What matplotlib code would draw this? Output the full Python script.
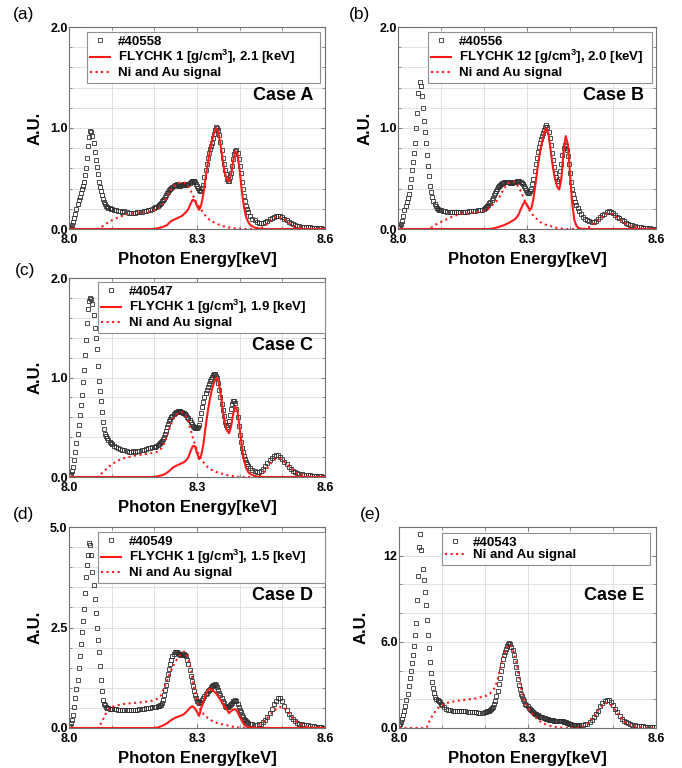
import numpy as np
import matplotlib
matplotlib.use("Agg")
import matplotlib.pyplot as plt
from matplotlib.ticker import MultipleLocator

plt.rcParams['font.family'] = ['Liberation Sans', 'DejaVu Sans']
plt.rcParams['mathtext.fontset'] = 'custom'
plt.rcParams['mathtext.rm'] = 'Liberation Sans'
plt.rcParams['mathtext.bf'] = 'Liberation Sans:bold'
plt.rcParams['mathtext.default'] = 'bf'

# photon energy grid [keV], 5 eV steps
energy = np.round(np.linspace(8.0, 8.6, 121), 4)
# extra measured points (half steps) on the steep parts of the spectra
energy_fine = np.round(np.concatenate([np.linspace(8.0025, 8.0975, 20),
                                       np.linspace(8.2025, 8.4175, 44)]), 4)

# --- Case A (#40558) ---
a_meas = [
    0.00, 0.02, 0.07, 0.15, 0.25, 0.32, 0.40, 0.47, 0.60, 0.82,
    0.97, 0.92, 0.76, 0.61, 0.47, 0.38, 0.30, 0.25, 0.22, 0.21,
    0.20, 0.19, 0.19, 0.18, 0.18, 0.17, 0.18, 0.17, 0.16, 0.16,
    0.16, 0.16, 0.17, 0.17, 0.17, 0.18, 0.18, 0.19, 0.19, 0.20,
    0.21, 0.22, 0.24, 0.26, 0.29, 0.32, 0.36, 0.39, 0.41, 0.43,
    0.44, 0.44, 0.43, 0.44, 0.45, 0.44, 0.45, 0.47, 0.48, 0.47,
    0.43, 0.39, 0.38, 0.44, 0.58, 0.70, 0.79, 0.85, 0.94, 1.01,
    0.98, 0.86, 0.70, 0.58, 0.50, 0.48, 0.55, 0.69, 0.77, 0.75,
    0.62, 0.47, 0.33, 0.23, 0.17, 0.13, 0.10, 0.09, 0.07, 0.06,
    0.06, 0.06, 0.07, 0.08, 0.10, 0.11, 0.12, 0.13, 0.13, 0.13,
    0.12, 0.10, 0.09, 0.07, 0.06, 0.05, 0.04, 0.03, 0.03, 0.02,
    0.02, 0.02, 0.02, 0.02, 0.01, 0.01, 0.01, 0.01, 0.01, 0.00,
    0.00]
a_meas_fine = [
    0.01, 0.04, 0.11, 0.20, 0.29, 0.36, 0.43, 0.53, 0.70, 0.91,
    0.96, 0.85, 0.68, 0.54, 0.42, 0.34, 0.27, 0.23, 0.21, 0.20,
    0.215, 0.23, 0.25, 0.275, 0.30, 0.34, 0.37, 0.40, 0.42, 0.44,
    0.45, 0.43, 0.44, 0.45, 0.44, 0.45, 0.46, 0.48, 0.48, 0.45,
    0.41, 0.38, 0.41, 0.51, 0.64, 0.75, 0.82, 0.90, 0.98, 1.00,
    0.93, 0.78, 0.64, 0.54, 0.48, 0.51, 0.62, 0.74, 0.78, 0.69,
    0.55, 0.40, 0.28, 0.20]
a_flychk = [
    0, 0, 0, 0, 0, 0, 0, 0, 0, 0,
    0, 0, 0, 0, 0, 0, 0, 0, 0, 0,
    0, 0, 0, 0, 0, 0, 0, 0, 0, 0,
    0, 0, 0, 0, 0, 0, 0, 0, 0, 0,
    0.00, 0.005, 0.01, 0.015, 0.02, 0.03, 0.04, 0.06, 0.08, 0.09,
    0.10, 0.11, 0.12, 0.13, 0.15, 0.17, 0.20, 0.25, 0.29, 0.28,
    0.23, 0.19, 0.24, 0.35, 0.50, 0.64, 0.77, 0.87, 0.95, 1.00,
    0.96, 0.84, 0.69, 0.56, 0.49, 0.47, 0.54, 0.68, 0.77, 0.74,
    0.58, 0.38, 0.22, 0.12, 0.07, 0.04, 0.025, 0.015, 0.01, 0.005,
    0, 0, 0, 0, 0, 0, 0, 0, 0, 0,
    0, 0, 0, 0, 0, 0, 0, 0, 0, 0,
    0, 0, 0, 0, 0, 0, 0, 0, 0, 0,
    0]
a_ni = [
    0, 0, 0, 0, 0, 0, 0, 0, 0, 0,
    0, 0, 0, 0, 0.005, 0.02, 0.03, 0.045, 0.06, 0.07,
    0.085, 0.095, 0.105, 0.115, 0.125, 0.13, 0.14, 0.145, 0.15, 0.15,
    0.155, 0.16, 0.16, 0.16, 0.165, 0.165, 0.17, 0.17, 0.175, 0.18,
    0.185, 0.19, 0.20, 0.22, 0.24, 0.28, 0.32, 0.36, 0.39, 0.42,
    0.44, 0.45, 0.46, 0.46, 0.46, 0.44, 0.42, 0.38, 0.34, 0.29,
    0.25, 0.22, 0.19, 0.16, 0.13, 0.11, 0.09, 0.08, 0.065, 0.055,
    0.045, 0.04, 0.03, 0.025, 0.02, 0.015, 0.01, 0.01, 0.005, 0.005,
    0, 0, 0, 0, 0, 0, 0, 0, 0, 0.005,
    0.01, 0.02, 0.035, 0.055, 0.075, 0.095, 0.11, 0.12, 0.12, 0.115,
    0.105, 0.09, 0.075, 0.06, 0.045, 0.035, 0.025, 0.02, 0.015, 0.01,
    0.005, 0, 0, 0, 0, 0, 0, 0, 0, 0,
    0]

# --- Case B (#40556) ---
b_meas = [
    0.01, 0.03, 0.08, 0.19, 0.27, 0.35, 0.50, 0.66, 0.85, 1.15,
    1.46, 1.32, 1.07, 0.85, 0.62, 0.43, 0.32, 0.25, 0.21, 0.19,
    0.19, 0.18, 0.18, 0.17, 0.17, 0.17, 0.17, 0.17, 0.17, 0.17,
    0.17, 0.17, 0.17, 0.18, 0.18, 0.18, 0.18, 0.19, 0.19, 0.19,
    0.20, 0.22, 0.24, 0.27, 0.31, 0.36, 0.40, 0.43, 0.45, 0.46,
    0.47, 0.47, 0.46, 0.46, 0.47, 0.47, 0.48, 0.47, 0.45, 0.41,
    0.37, 0.36, 0.40, 0.50, 0.64, 0.76, 0.85, 0.92, 0.98, 1.03,
    0.96, 0.83, 0.68, 0.55, 0.48, 0.50, 0.64, 0.80, 0.82, 0.72,
    0.55, 0.40, 0.31, 0.24, 0.18, 0.15, 0.12, 0.10, 0.09, 0.08,
    0.07, 0.07, 0.08, 0.10, 0.12, 0.14, 0.15, 0.17, 0.18, 0.17,
    0.16, 0.14, 0.12, 0.11, 0.09, 0.08, 0.06, 0.05, 0.04, 0.04,
    0.03, 0.02, 0.02, 0.02, 0.01, 0.01, 0.01, 0.01, 0.00, 0.00,
    0.00]
b_meas_fine = [
    0.02, 0.05, 0.13, 0.23, 0.31, 0.42, 0.58, 0.75, 1.00, 1.35,
    1.42, 1.20, 0.96, 0.73, 0.52, 0.37, 0.28, 0.23, 0.20, 0.19,
    0.21, 0.23, 0.255, 0.29, 0.335, 0.38, 0.415, 0.44, 0.455, 0.465,
    0.47, 0.465, 0.46, 0.465, 0.47, 0.475, 0.475, 0.46, 0.43, 0.39,
    0.36, 0.38, 0.45, 0.57, 0.70, 0.81, 0.89, 0.95, 1.01, 1.01,
    0.90, 0.75, 0.61, 0.51, 0.48, 0.57, 0.73, 0.83, 0.78, 0.64,
    0.47, 0.35, 0.27, 0.21]
b_flychk = [
    0, 0, 0, 0, 0, 0, 0, 0, 0, 0,
    0, 0, 0, 0, 0, 0, 0, 0, 0, 0,
    0, 0, 0, 0, 0, 0, 0, 0, 0, 0,
    0, 0, 0, 0, 0, 0, 0, 0, 0, 0,
    0, 0, 0, 0, 0.005, 0.01, 0.015, 0.02, 0.03, 0.035,
    0.045, 0.055, 0.065, 0.08, 0.09, 0.11, 0.14, 0.19, 0.24, 0.27,
    0.24, 0.20, 0.20, 0.30, 0.45, 0.62, 0.76, 0.86, 0.95, 1.00,
    0.94, 0.78, 0.62, 0.50, 0.42, 0.39, 0.50, 0.76, 0.92, 0.84,
    0.55, 0.26, 0.09, 0.03, 0.01, 0.005, 0, 0, 0, 0,
    0, 0, 0, 0, 0, 0, 0, 0, 0, 0,
    0, 0, 0, 0, 0, 0, 0, 0, 0, 0,
    0, 0, 0, 0, 0, 0, 0, 0, 0, 0,
    0]
b_ni = [
    0, 0, 0, 0, 0, 0, 0, 0, 0, 0,
    0, 0, 0, 0, 0, 0.005, 0.02, 0.035, 0.05, 0.06,
    0.07, 0.08, 0.09, 0.10, 0.11, 0.12, 0.13, 0.135, 0.14, 0.145,
    0.15, 0.15, 0.155, 0.155, 0.16, 0.16, 0.165, 0.165, 0.17, 0.175,
    0.18, 0.19, 0.20, 0.22, 0.24, 0.26, 0.28, 0.31, 0.35, 0.39,
    0.42, 0.45, 0.46, 0.47, 0.47, 0.45, 0.42, 0.38, 0.33, 0.28,
    0.23, 0.19, 0.16, 0.13, 0.11, 0.09, 0.07, 0.06, 0.05, 0.04,
    0.035, 0.03, 0.02, 0.015, 0.01, 0.01, 0.005, 0, 0, 0,
    0, 0, 0, 0, 0, 0, 0, 0.005, 0.01, 0.02,
    0.035, 0.05, 0.07, 0.085, 0.10, 0.12, 0.135, 0.145, 0.155, 0.155,
    0.145, 0.13, 0.115, 0.095, 0.08, 0.065, 0.05, 0.04, 0.03, 0.025,
    0.02, 0.015, 0.01, 0.005, 0, 0, 0, 0, 0, 0,
    0]

# --- Case C (#40547) ---
c_meas = [
    0.01, 0.03, 0.10, 0.25, 0.43, 0.62, 0.82, 1.08, 1.38, 1.69,
    1.80, 1.74, 1.50, 1.29, 0.96, 0.76, 0.55, 0.43, 0.39, 0.35,
    0.33, 0.31, 0.30, 0.29, 0.28, 0.27, 0.27, 0.26, 0.25, 0.25,
    0.26, 0.25, 0.26, 0.26, 0.27, 0.27, 0.28, 0.29, 0.29, 0.30,
    0.30, 0.31, 0.33, 0.35, 0.38, 0.43, 0.50, 0.56, 0.60, 0.63,
    0.65, 0.66, 0.66, 0.65, 0.64, 0.62, 0.59, 0.55, 0.51, 0.49,
    0.49, 0.52, 0.64, 0.75, 0.84, 0.90, 0.96, 1.01, 1.04, 1.02,
    0.94, 0.80, 0.67, 0.55, 0.50, 0.56, 0.68, 0.76, 0.74, 0.60,
    0.42, 0.29, 0.21, 0.15, 0.11, 0.09, 0.07, 0.06, 0.05, 0.05,
    0.06, 0.08, 0.11, 0.14, 0.17, 0.19, 0.21, 0.22, 0.22, 0.20,
    0.18, 0.15, 0.13, 0.10, 0.08, 0.06, 0.05, 0.04, 0.03, 0.03,
    0.02, 0.02, 0.02, 0.02, 0.01, 0.01, 0.01, 0.01, 0.01, 0.00,
    0.00]
c_meas_fine = [
    0.02, 0.06, 0.17, 0.34, 0.52, 0.72, 0.95, 1.23, 1.55, 1.77,
    1.79, 1.63, 1.40, 1.12, 0.86, 0.65, 0.48, 0.41, 0.37, 0.34,
    0.305, 0.32, 0.34, 0.365, 0.40, 0.465, 0.53, 0.58, 0.615, 0.64,
    0.655, 0.66, 0.655, 0.645, 0.63, 0.605, 0.57, 0.53, 0.50, 0.49,
    0.50, 0.58, 0.70, 0.80, 0.87, 0.93, 0.985, 1.03, 1.04, 0.99,
    0.87, 0.73, 0.61, 0.52, 0.52, 0.62, 0.73, 0.76, 0.68, 0.51,
    0.35, 0.25, 0.18, 0.13]
c_flychk = [
    0, 0, 0, 0, 0, 0, 0, 0, 0, 0,
    0, 0, 0, 0, 0, 0, 0, 0, 0, 0,
    0, 0, 0, 0, 0, 0, 0, 0, 0, 0,
    0, 0, 0, 0, 0, 0, 0, 0, 0, 0,
    0, 0.005, 0.01, 0.015, 0.02, 0.03, 0.045, 0.06, 0.08, 0.10,
    0.11, 0.12, 0.13, 0.14, 0.15, 0.17, 0.20, 0.26, 0.31, 0.31,
    0.24, 0.18, 0.22, 0.33, 0.50, 0.65, 0.78, 0.88, 0.95, 1.00,
    0.97, 0.85, 0.69, 0.55, 0.47, 0.44, 0.51, 0.64, 0.71, 0.66,
    0.49, 0.31, 0.17, 0.09, 0.05, 0.03, 0.02, 0.01, 0.005, 0,
    0, 0, 0, 0, 0, 0, 0, 0, 0, 0,
    0, 0, 0, 0, 0, 0, 0, 0, 0, 0,
    0, 0, 0, 0, 0, 0, 0, 0, 0, 0,
    0]
c_ni = [
    0, 0, 0, 0, 0, 0, 0, 0, 0, 0,
    0, 0, 0, 0, 0.005, 0.03, 0.05, 0.07, 0.09, 0.11,
    0.13, 0.14, 0.155, 0.165, 0.175, 0.185, 0.19, 0.195, 0.20, 0.205,
    0.21, 0.215, 0.22, 0.22, 0.225, 0.23, 0.23, 0.235, 0.24, 0.24,
    0.245, 0.25, 0.26, 0.28, 0.31, 0.36, 0.42, 0.48, 0.54, 0.59,
    0.62, 0.64, 0.65, 0.65, 0.63, 0.60, 0.55, 0.48, 0.40, 0.33,
    0.27, 0.22, 0.18, 0.15, 0.12, 0.10, 0.085, 0.07, 0.06, 0.05,
    0.045, 0.04, 0.03, 0.025, 0.02, 0.015, 0.01, 0.01, 0.005, 0,
    0, 0, 0, 0, 0, 0, 0, 0, 0.005, 0.01,
    0.02, 0.04, 0.06, 0.09, 0.12, 0.15, 0.17, 0.18, 0.19, 0.185,
    0.17, 0.15, 0.13, 0.11, 0.09, 0.07, 0.05, 0.04, 0.03, 0.02,
    0.015, 0.01, 0.005, 0, 0, 0, 0, 0, 0, 0,
    0]

# --- Case D (#40549) ---
d_meas = [
    0.02, 0.12, 0.32, 0.75, 1.20, 1.80, 2.39, 2.95, 3.75, 4.31,
    4.55, 3.89, 3.20, 2.50, 1.90, 1.20, 0.69, 0.56, 0.50, 0.48,
    0.48, 0.47, 0.47, 0.46, 0.46, 0.45, 0.45, 0.44, 0.44, 0.45,
    0.45, 0.46, 0.46, 0.47, 0.47, 0.48, 0.49, 0.50, 0.50, 0.51,
    0.52, 0.53, 0.54, 0.58, 0.70, 0.95, 1.22, 1.48, 1.70, 1.85,
    1.90, 1.86, 1.82, 1.83, 1.85, 1.78, 1.60, 1.30, 1.05, 0.81,
    0.68, 0.63, 0.65, 0.75, 0.84, 0.92, 0.98, 1.04, 1.08, 1.07,
    0.94, 0.82, 0.68, 0.55, 0.52, 0.55, 0.60, 0.66, 0.69, 0.60,
    0.46, 0.32, 0.22, 0.17, 0.13, 0.11, 0.09, 0.08, 0.08, 0.09,
    0.11, 0.14, 0.20, 0.28, 0.38, 0.48, 0.59, 0.68, 0.74, 0.75,
    0.67, 0.55, 0.44, 0.35, 0.28, 0.22, 0.17, 0.13, 0.11, 0.09,
    0.08, 0.07, 0.07, 0.06, 0.05, 0.04, 0.03, 0.02, 0.02, 0.01,
    0.01]
d_meas_fine = [
    0.06, 0.20, 0.52, 0.98, 1.50, 2.10, 2.65, 3.35, 4.05, 4.60,
    4.30, 3.55, 2.85, 2.20, 1.55, 0.92, 0.60, 0.52, 0.49, 0.48,
    0.525, 0.535, 0.56, 0.63, 0.82, 1.08, 1.35, 1.60, 1.78, 1.89,
    1.88, 1.84, 1.82, 1.84, 1.82, 1.70, 1.45, 1.17, 0.93, 0.74,
    0.65, 0.63, 0.70, 0.80, 0.88, 0.95, 1.01, 1.06, 1.09, 1.01,
    0.88, 0.75, 0.61, 0.53, 0.53, 0.57, 0.63, 0.68, 0.66, 0.53,
    0.39, 0.27, 0.19, 0.15]
d_flychk = [
    0, 0, 0, 0, 0, 0, 0, 0, 0, 0,
    0, 0, 0, 0, 0, 0, 0, 0, 0, 0,
    0, 0, 0, 0, 0, 0, 0, 0, 0, 0,
    0, 0, 0, 0, 0, 0, 0, 0, 0, 0,
    0, 0.01, 0.02, 0.04, 0.06, 0.09, 0.12, 0.16, 0.20, 0.23,
    0.26, 0.28, 0.30, 0.32, 0.35, 0.40, 0.46, 0.52, 0.54, 0.49,
    0.40, 0.30, 0.50, 0.65, 0.80, 0.93, 0.98, 0.95, 0.91, 0.86,
    0.78, 0.70, 0.62, 0.53, 0.46, 0.37, 0.42, 0.46, 0.47, 0.40,
    0.28, 0.19, 0.09, 0.04, 0.02, 0.01, 0, 0, 0, 0,
    0, 0, 0, 0, 0, 0, 0, 0, 0, 0,
    0, 0, 0, 0, 0, 0, 0, 0, 0, 0,
    0, 0, 0, 0, 0, 0, 0, 0, 0, 0,
    0]
d_ni = [
    0, 0, 0, 0, 0, 0, 0, 0, 0, 0,
    0, 0, 0, 0, 0.01, 0.12, 0.22, 0.33, 0.42, 0.48,
    0.52, 0.54, 0.56, 0.57, 0.58, 0.59, 0.60, 0.605, 0.61, 0.615,
    0.62, 0.625, 0.63, 0.635, 0.64, 0.65, 0.655, 0.66, 0.67, 0.68,
    0.70, 0.72, 0.75, 0.80, 0.92, 1.05, 1.18, 1.32, 1.45, 1.56,
    1.66, 1.74, 1.81, 1.87, 1.90, 1.84, 1.70, 1.50, 1.20, 0.92,
    0.70, 0.53, 0.42, 0.35, 0.30, 0.25, 0.22, 0.18, 0.16, 0.13,
    0.12, 0.10, 0.09, 0.08, 0.07, 0.05, 0.04, 0.03, 0.02, 0.02,
    0.01, 0.01, 0.005, 0, 0, 0, 0, 0.03, 0.05, 0.08,
    0.11, 0.15, 0.20, 0.25, 0.31, 0.37, 0.43, 0.47, 0.50, 0.52,
    0.51, 0.48, 0.44, 0.38, 0.31, 0.25, 0.19, 0.15, 0.12, 0.09,
    0.07, 0.05, 0.04, 0.03, 0.02, 0.02, 0.01, 0.005, 0, 0,
    0]

# --- Case E (#40543) ---
e_meas = [
    0.20, 0.40, 0.90, 1.50, 2.40, 3.48, 4.50, 5.70, 7.30, 10.6,
    13.5, 11.1, 9.5, 7.5, 5.6, 3.8, 2.8, 2.15, 1.95, 1.80,
    1.58, 1.45, 1.35, 1.28, 1.22, 1.19, 1.17, 1.16, 1.16, 1.16,
    1.16, 1.15, 1.14, 1.12, 1.11, 1.10, 1.08, 1.06, 1.05, 1.07,
    1.10, 1.15, 1.20, 1.30, 1.45, 1.90, 2.60, 3.50, 4.40, 5.10,
    5.50, 5.85, 5.85, 5.40, 4.70, 3.80, 3.00, 2.40, 2.00, 1.70,
    1.50, 1.35, 1.20, 1.05, 0.95, 0.88, 0.80, 0.74, 0.68, 0.62,
    0.58, 0.55, 0.53, 0.52, 0.51, 0.50, 0.48, 0.45, 0.42, 0.34,
    0.28, 0.23, 0.21, 0.20, 0.19, 0.20, 0.22, 0.25, 0.30, 0.40,
    0.55, 0.75, 0.95, 1.20, 1.50, 1.75, 1.90, 1.97, 1.95, 1.80,
    1.60, 1.35, 1.10, 0.85, 0.65, 0.50, 0.40, 0.32, 0.26, 0.22,
    0.19, 0.17, 0.15, 0.13, 0.12, 0.10, 0.09, 0.08, 0.07, 0.06,
    0.05]
e_meas_fine = [
    0.28, 0.62, 1.18, 1.92, 2.95, 4.00, 5.10, 6.50, 8.90, 12.6,
    12.4, 10.3, 8.6, 6.5, 4.6, 3.2, 2.45, 2.05, 1.88, 1.68,
    1.12, 1.17, 1.25, 1.36, 1.65, 2.22, 3.05, 3.95, 4.80, 5.32,
    5.70, 5.92, 5.65, 5.05, 4.25, 3.40, 2.70, 2.20, 1.85, 1.60,
    1.42, 1.28, 1.12, 1.00, 0.91, 0.84, 0.77, 0.71, 0.65, 0.60,
    0.56, 0.54, 0.52, 0.51, 0.50, 0.49, 0.46, 0.44, 0.38, 0.31,
    0.25, 0.22, 0.20, 0.19]
e_ni = [
    0, 0, 0, 0, 0, 0, 0, 0, 0, 0,
    0, 0, 0, 0.05, 0.40, 0.70, 0.96, 1.15, 1.35, 1.50,
    1.58, 1.66, 1.72, 1.77, 1.80, 1.83, 1.86, 1.88, 1.91, 1.93,
    1.95, 1.97, 1.99, 2.01, 2.03, 2.05, 2.07, 2.10, 2.14, 2.18,
    2.20, 2.26, 2.34, 2.46, 2.65, 2.90, 3.35, 4.00, 4.60, 5.10,
    5.45, 5.75, 5.80, 5.55, 5.00, 4.50, 3.60, 2.80, 2.10, 1.75,
    1.50, 1.25, 1.02, 0.85, 0.70, 0.56, 0.45, 0.35, 0.28, 0.23,
    0.17, 0.13, 0.10, 0.07, 0.05, 0.03, 0.02, 0.01, 0, 0,
    0, 0, 0, 0, 0.02, 0.06, 0.12, 0.20, 0.32, 0.47,
    0.62, 0.80, 1.00, 1.22, 1.40, 1.55, 1.68, 1.74, 1.68, 1.58,
    1.45, 1.25, 1.02, 0.82, 0.63, 0.48, 0.36, 0.27, 0.20, 0.15,
    0.11, 0.08, 0.06, 0.04, 0.03, 0.02, 0.01, 0, 0, 0,
    0]

shots = ['#40558', '#40556', '#40547', '#40549', '#40543']
flychk_labels = ['FLYCHK 1 [g/cm$^3$], 2.1 [keV]',
                 'FLYCHK 12 [g/cm$^3$], 2.0 [keV]',
                 'FLYCHK 1 [g/cm$^3$], 1.9 [keV]',
                 'FLYCHK 1 [g/cm$^3$], 1.5 [keV]']
cases = ['Case A', 'Case B', 'Case C', 'Case D', 'Case E']
panel_tags = ['(a)', '(b)', '(c)', '(d)', '(e)']

W, H = 682, 768
RED = '#ff1a1a'
fig = plt.figure(figsize=(W / 100, H / 100), dpi=100)


def make_panel(box, meas, meas_fine, fly, ni, shot, fly_label, case,
               ymax, yticks, ylabels, ystep, leg_box, ylab_x):
    l, t, r, b = box
    ax = fig.add_axes([l / W, 1 - b / H, (r - l) / W, (b - t) / H])
    mstyle = dict(ls='none', marker='s', ms=3.2, mfc='none',
                  mec='#303030', mew=0.6)
    ax.plot(energy, meas, label=shot, **mstyle)
    ax.plot(energy_fine, meas_fine, **mstyle)
    if fly is not None:
        ax.plot(energy, fly, color=RED, lw=1.5, label=fly_label)
    ax.plot(energy, ni, color=RED, lw=1.5, ls=':', label='Ni and Au signal')

    ax.set_xlim(8.0, 8.6)
    ax.set_ylim(0, ymax)
    ax.set_xticks([8.0, 8.3, 8.6])
    ax.set_xticklabels(['8.0', '8.3', '8.6'], fontweight='bold', fontsize=9)
    ax.set_yticks(yticks)
    ax.set_yticklabels(ylabels, fontweight='bold', fontsize=9)
    ax.xaxis.set_minor_locator(MultipleLocator(0.1))
    ax.yaxis.set_minor_locator(MultipleLocator(ystep))
    ax.tick_params(which='both', direction='in', top=True, right=True,
                   color='#808080')
    ax.tick_params(which='major', length=3)
    ax.tick_params(axis='x', which='major', pad=3.5)
    ax.tick_params(axis='y', which='major', pad=1)
    ax.tick_params(which='minor', length=2)
    ax.grid(True, which='both', color='#dcdcdc', lw=0.6)
    ax.set_axisbelow(True)
    for sp in ax.spines.values():
        sp.set_color('#707070')
        sp.set_linewidth(0.8)

    ax.set_xlabel('Photon Energy[keV]', fontsize=12, fontweight='bold')
    ax.set_ylabel('A.U.', fontsize=12, fontweight='bold')
    ax.xaxis.set_label_coords(0.5, -23 / (b - t))
    ax.yaxis.set_label_coords(ylab_x, 0.5)

    ax.text(0.955, 0.66, case, transform=ax.transAxes, ha='right',
            va='center', fontsize=13, fontweight='bold')

    leg = ax.legend(loc='upper left', bbox_to_anchor=leg_box, mode='expand',
                    frameon=True, fancybox=False, edgecolor='#909090',
                    framealpha=1, prop={'weight': 'bold', 'size': 9.5},
                    numpoints=1, handlelength=1.5, handletextpad=0.6,
                    borderpad=0.25, labelspacing=0.05, borderaxespad=0)
    leg.get_frame().set_linewidth(0.8)
    return ax


make_panel((69, 27, 325, 229), a_meas, a_meas_fine, a_flychk, a_ni, shots[0],
           flychk_labels[0], cases[0], 2.0, [0, 1, 2], ['0.0', '1.0', '2.0'],
           0.2, (0.07, 0.975, 0.91, 0.0), -0.105)
make_panel((398, 27, 656, 229), b_meas, b_meas_fine, b_flychk, b_ni, shots[1],
           flychk_labels[1], cases[1], 2.0, [0, 1, 2], ['0.0', '1.0', '2.0'],
           0.2, (0.116, 0.975, 0.868, 0.0), -0.10)
make_panel((69, 278, 325, 477), c_meas, c_meas_fine, c_flychk, c_ni, shots[2],
           flychk_labels[2], cases[2], 2.0, [0, 1, 2], ['0.0', '1.0', '2.0'],
           0.2, (0.113, 0.98, 0.887, 0.0), -0.105)
make_panel((69, 527, 325, 728), d_meas, d_meas_fine, d_flychk, d_ni, shots[3],
           flychk_labels[3], cases[3], 5.0, [0, 2.5, 5], ['0.0', '2.5', '5.0'],
           0.5, (0.113, 0.975, 0.887, 0.0), -0.105)
make_panel((399, 527, 656, 728), e_meas, e_meas_fine, None, e_ni, shots[4],
           None, cases[4], 14.0, [0, 6, 12], ['0.0', '6.0', '12'],
           2.0, (0.167, 0.97, 0.81, 0.0), -0.12)

tag_pos = [(13, 15), (349, 15), (15, 270), (13, 515), (360, 515)]
for tag, (x, y) in zip(panel_tags, tag_pos):
    fig.text(x / W, 1 - y / H, tag, fontsize=12.5, ha='left', va='center')

fig.savefig('out.png', dpi=100)
